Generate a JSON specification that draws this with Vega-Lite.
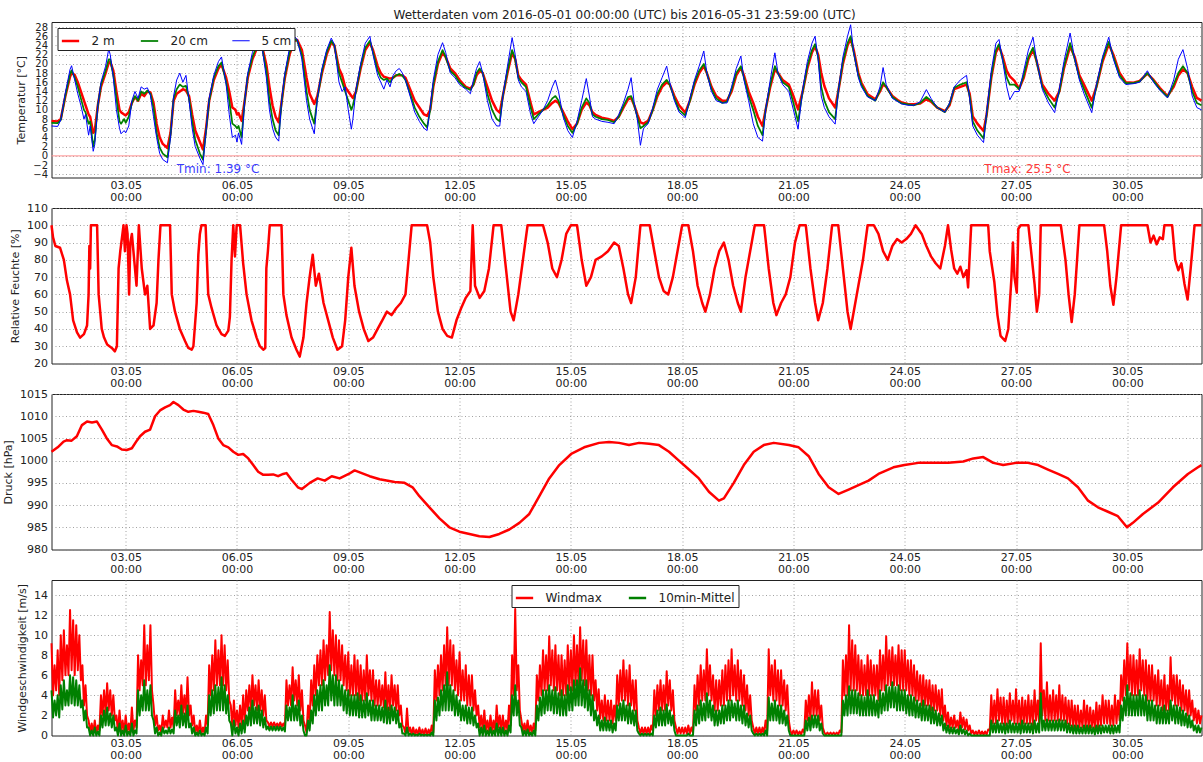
{
"$schema":"https://vega.github.io/schema/vega-lite/v6.json",
"padding":{"left":1.5,"top":8,"right":0,"bottom":0},
"title":{"text":"Wetterdaten vom 2016-05-01 00:00:00 (UTC) bis 2016-05-31 23:59:00 (UTC)","fontSize":12,"fontWeight":"normal","font":"DejaVu Sans","color":"#222","anchor":"middle","offset":4,"dx":22,"dy":4},
"bounds":"flush",
"spacing":30,
"resolve":{"scale":{"color":"independent","strokeWidth":"independent"},"legend":{"color":"independent","strokeWidth":"independent"}},
"config":{
 "font":"DejaVu Sans",
 "view":{"stroke":"#222","strokeWidth":1},
 "axis":{"labelFont":"DejaVu Sans","labelFontSize":11,"labelColor":"#222","titleFont":"DejaVu Sans","titleFontSize":11,"titleFontWeight":"normal","titleColor":"#222","grid":true,"gridColor":"#8a8a8a","gridDash":[1,2.5],"gridWidth":0.8,"domain":false,"ticks":false,"labelOverlap":false},
 "axisX":{"labelPadding":2,"labelLineHeight":12},
 "axisY":{"labelPadding":4,"titlePadding":6},
 "legend":{"symbolType":"stroke","labelFont":"DejaVu Sans","labelFontSize":12,"labelColor":"#222","strokeColor":"#222","fillColor":"#ffffff","padding":3,"labelOffset":11,"columnPadding":21,"symbolSize":300}
},
"vconcat":[
{
"width":1150,"height":155.5,
"layer":[
 {"data":{"values":[{"temp":0}]},"mark":{"type":"rule","color":"#ff9090","strokeWidth":1},"encoding":{"y":{"field":"temp","type":"quantitative","axis":{"values":[-4,-2,0,2,4,6,8,10,12,14,16,18,20,22,24,26,28],"tickCount":40,"labelOverlap":false,"labelFontSize":10,"title":"Temperatur [°C]"}}}},
 {"data":{"values":[
{"h":0,"t2m":7.6,"t20cm":7.2,"t5cm":6.5},{"h":4,"t2m":7.5,"t20cm":7.1,"t5cm":6.4},{"h":6,"t2m":8,"t20cm":7.8,"t5cm":7.8},{"h":9,"t2m":13,"t20cm":13.2,"t5cm":13.8},{"h":12,"t2m":17.2,"t20cm":17.8,"t5cm":18.8},{"h":13,"t2m":18,"t20cm":18.6,"t5cm":19.6},{"h":15,"t2m":17.6,"t20cm":17,"t5cm":16.5},{"h":17,"t2m":16,"t20cm":15,"t5cm":13.5},{"h":19,"t2m":14,"t20cm":12.5,"t5cm":11},{"h":21,"t2m":12,"t20cm":10,"t5cm":8},{"h":22,"t2m":11,"t20cm":9.5,"t5cm":9},{"h":24,"t2m":9,"t20cm":7,"t5cm":4.5},{"h":25,"t2m":8.5,"t20cm":7.5,"t5cm":6.5},{"h":27,"t2m":5,"t20cm":2,"t5cm":1},{"h":28,"t2m":5.5,"t20cm":3.5,"t5cm":2.5},{"h":30,"t2m":11,"t20cm":11,"t5cm":11},{"h":32,"t2m":15,"t20cm":15.5,"t5cm":16},{"h":35,"t2m":18,"t20cm":18.5,"t5cm":19.5},{"h":37,"t2m":20.2,"t20cm":21,"t5cm":23.2},{"h":38,"t2m":20.5,"t20cm":21,"t5cm":22},{"h":40,"t2m":18.5,"t20cm":17.5,"t5cm":17},{"h":42,"t2m":14,"t20cm":12.5,"t5cm":10},{"h":44,"t2m":10,"t20cm":7.5,"t5cm":6},{"h":45,"t2m":9.5,"t20cm":7,"t5cm":4.8},{"h":47,"t2m":9,"t20cm":8,"t5cm":5.5},{"h":48,"t2m":8.8,"t20cm":7.2,"t5cm":5},{"h":50,"t2m":9.5,"t20cm":8.5,"t5cm":6.5},{"h":52,"t2m":11.5,"t20cm":11.5,"t5cm":12},{"h":54,"t2m":12.8,"t20cm":13,"t5cm":14},{"h":56,"t2m":12,"t20cm":12,"t5cm":12.5},{"h":58,"t2m":13.5,"t20cm":14,"t5cm":15},{"h":60,"t2m":13,"t20cm":13.5,"t5cm":14.5},{"h":62,"t2m":14,"t20cm":14.2,"t5cm":14.8},{"h":64,"t2m":13.8,"t20cm":13.5,"t5cm":13.2},{"h":66,"t2m":11.5,"t20cm":10.5,"t5cm":8.5},{"h":68,"t2m":7,"t20cm":5,"t5cm":4},{"h":70,"t2m":4,"t20cm":1.8,"t5cm":0.5},{"h":72,"t2m":2.6,"t20cm":0.5,"t5cm":-0.8},{"h":75,"t2m":1.7,"t20cm":-0.3,"t5cm":-1.5},{"h":77,"t2m":5,"t20cm":4.5,"t5cm":4},{"h":79,"t2m":12,"t20cm":12.5,"t5cm":13},{"h":81,"t2m":13.5,"t20cm":14.5,"t5cm":16.5},{"h":83,"t2m":14,"t20cm":15.5,"t5cm":18},{"h":85,"t2m":14.5,"t20cm":15,"t5cm":16},{"h":87,"t2m":14.2,"t20cm":15.2,"t5cm":17.5},{"h":89,"t2m":13,"t20cm":12.5,"t5cm":12},{"h":91,"t2m":9,"t20cm":7.5,"t5cm":6},{"h":93,"t2m":5.5,"t20cm":3.5,"t5cm":2},{"h":96,"t2m":3,"t20cm":0.5,"t5cm":-0.5},{"h":98,"t2m":1.4,"t20cm":-0.8,"t5cm":-1.9},{"h":100,"t2m":6,"t20cm":5.5,"t5cm":5.5},{"h":102,"t2m":12,"t20cm":12,"t5cm":12.5},{"h":105,"t2m":16.5,"t20cm":17,"t5cm":17.5},{"h":108,"t2m":19,"t20cm":19.5,"t5cm":20.5},{"h":110,"t2m":19.8,"t20cm":20.3,"t5cm":21.5},{"h":113,"t2m":17,"t20cm":16,"t5cm":15.5},{"h":115,"t2m":14,"t20cm":12,"t5cm":9},{"h":117,"t2m":10.5,"t20cm":7,"t5cm":4},{"h":119,"t2m":10,"t20cm":6.5,"t5cm":4.5},{"h":120,"t2m":9,"t20cm":6,"t5cm":3},{"h":121,"t2m":9.3,"t20cm":6.5,"t5cm":5},{"h":123,"t2m":7.6,"t20cm":4,"t5cm":2.5},{"h":125,"t2m":12,"t20cm":12,"t5cm":12},{"h":127,"t2m":17,"t20cm":17.5,"t5cm":18},{"h":130,"t2m":21,"t20cm":21.5,"t5cm":22.5},{"h":133,"t2m":23.5,"t20cm":24,"t5cm":25},{"h":136,"t2m":24.2,"t20cm":24,"t5cm":24.2},{"h":139,"t2m":19.8,"t20cm":18.5,"t5cm":17},{"h":141,"t2m":15,"t20cm":12,"t5cm":10},{"h":143,"t2m":11,"t20cm":8,"t5cm":6},{"h":145,"t2m":8.5,"t20cm":5.5,"t5cm":4},{"h":147,"t2m":7.3,"t20cm":4.5,"t5cm":3.2},{"h":149,"t2m":12,"t20cm":12,"t5cm":12.5},{"h":151,"t2m":17,"t20cm":17.5,"t5cm":18},{"h":154,"t2m":22,"t20cm":22.5,"t5cm":23.5},{"h":157,"t2m":25,"t20cm":25.5,"t5cm":26},{"h":159,"t2m":25.2,"t20cm":25,"t5cm":25.3},{"h":162,"t2m":23,"t20cm":22,"t5cm":21},{"h":165,"t2m":17,"t20cm":14,"t5cm":12},{"h":167,"t2m":13.5,"t20cm":10,"t5cm":8},{"h":170,"t2m":11.3,"t20cm":7,"t5cm":4.8},{"h":172,"t2m":13,"t20cm":12.5,"t5cm":12.5},{"h":175,"t2m":18,"t20cm":18.5,"t5cm":19},{"h":178,"t2m":22,"t20cm":22.5,"t5cm":23},{"h":181,"t2m":24.7,"t20cm":25,"t5cm":25.6},{"h":183,"t2m":24,"t20cm":24,"t5cm":24.2},{"h":186,"t2m":19,"t20cm":18,"t5cm":16},{"h":188,"t2m":17.5,"t20cm":16,"t5cm":14},{"h":190,"t2m":15,"t20cm":14,"t5cm":15},{"h":192,"t2m":14,"t20cm":12,"t5cm":10},{"h":194,"t2m":13,"t20cm":10,"t5cm":5.8},{"h":195,"t2m":12.6,"t20cm":11,"t5cm":8},{"h":197,"t2m":14,"t20cm":14,"t5cm":14.5},{"h":200,"t2m":19,"t20cm":19.5,"t5cm":20},{"h":203,"t2m":23,"t20cm":23.5,"t5cm":24.5},{"h":206,"t2m":24.6,"t20cm":25,"t5cm":26},{"h":208,"t2m":23,"t20cm":22.5,"t5cm":22},{"h":211,"t2m":19.5,"t20cm":18.5,"t5cm":17.5},{"h":213,"t2m":18,"t20cm":17,"t5cm":16},{"h":215,"t2m":17.2,"t20cm":16.5,"t5cm":14.5},{"h":217,"t2m":17,"t20cm":16.8,"t5cm":16.5},{"h":219,"t2m":16.8,"t20cm":16,"t5cm":15},{"h":221,"t2m":17,"t20cm":17,"t5cm":17.5},{"h":223,"t2m":17.5,"t20cm":17.5,"t5cm":18.5},{"h":225,"t2m":17.6,"t20cm":17.8,"t5cm":19},{"h":227,"t2m":17.5,"t20cm":17.4,"t5cm":18},{"h":229,"t2m":17,"t20cm":16.5,"t5cm":16.5},{"h":232,"t2m":14.5,"t20cm":13.5,"t5cm":13},{"h":235,"t2m":12,"t20cm":10.5,"t5cm":9.5},{"h":238,"t2m":10.5,"t20cm":8.5,"t5cm":7.5},{"h":241,"t2m":9,"t20cm":7,"t5cm":6},{"h":243,"t2m":8.7,"t20cm":6.2,"t5cm":5.5},{"h":245,"t2m":10,"t20cm":10,"t5cm":10.5},{"h":247,"t2m":15,"t20cm":15.5,"t5cm":16.5},{"h":250,"t2m":20,"t20cm":20.5,"t5cm":22},{"h":253,"t2m":22.4,"t20cm":23,"t5cm":24.6},{"h":255,"t2m":21.5,"t20cm":21.5,"t5cm":22.5},{"h":258,"t2m":19,"t20cm":18.5,"t5cm":18},{"h":261,"t2m":18,"t20cm":17.5,"t5cm":17},{"h":264,"t2m":16.5,"t20cm":16,"t5cm":15.5},{"h":268,"t2m":15,"t20cm":14.8,"t5cm":14.5},{"h":271,"t2m":14.6,"t20cm":14.3,"t5cm":13.5},{"h":273,"t2m":15.5,"t20cm":15.5,"t5cm":16.5},{"h":275,"t2m":17.5,"t20cm":18,"t5cm":19},{"h":277,"t2m":18.5,"t20cm":19,"t5cm":20.5},{"h":279,"t2m":18,"t20cm":18,"t5cm":18},{"h":282,"t2m":15,"t20cm":13.5,"t5cm":12},{"h":285,"t2m":12,"t20cm":10,"t5cm":8},{"h":288,"t2m":10,"t20cm":8,"t5cm":6.5},{"h":290,"t2m":9.4,"t20cm":7.5,"t5cm":6.5},{"h":292,"t2m":13,"t20cm":13,"t5cm":13},{"h":295,"t2m":18,"t20cm":18.5,"t5cm":19.5},{"h":298,"t2m":22.4,"t20cm":23,"t5cm":25.7},{"h":300,"t2m":21,"t20cm":21,"t5cm":22},{"h":302,"t2m":17.5,"t20cm":17,"t5cm":16.5},{"h":304,"t2m":16.5,"t20cm":16,"t5cm":15},{"h":307,"t2m":15.5,"t20cm":15,"t5cm":14},{"h":310,"t2m":11.5,"t20cm":10.5,"t5cm":9},{"h":312,"t2m":9,"t20cm":8,"t5cm":7},{"h":315,"t2m":9.5,"t20cm":9,"t5cm":8.5},{"h":318,"t2m":10,"t20cm":10,"t5cm":10},{"h":321,"t2m":10.5,"t20cm":11,"t5cm":12},{"h":324,"t2m":11.5,"t20cm":12.5,"t5cm":15},{"h":326,"t2m":12,"t20cm":13,"t5cm":16.5},{"h":328,"t2m":11.5,"t20cm":12,"t5cm":14},{"h":331,"t2m":9.5,"t20cm":9,"t5cm":8.5},{"h":334,"t2m":7.5,"t20cm":6.5,"t5cm":5.5},{"h":337,"t2m":5.8,"t20cm":5,"t5cm":4},{"h":340,"t2m":7,"t20cm":7,"t5cm":7.5},{"h":343,"t2m":10,"t20cm":10.5,"t5cm":12},{"h":346,"t2m":11.6,"t20cm":12.5,"t5cm":16.8},{"h":348,"t2m":11,"t20cm":11.5,"t5cm":13},{"h":350,"t2m":9.5,"t20cm":9,"t5cm":8.5},{"h":352,"t2m":8.9,"t20cm":8.5,"t5cm":8},{"h":356,"t2m":8.3,"t20cm":8,"t5cm":7.5},{"h":360,"t2m":8,"t20cm":7.8,"t5cm":7.3},{"h":364,"t2m":7.6,"t20cm":7.3,"t5cm":7},{"h":367,"t2m":8.5,"t20cm":8.5,"t5cm":9},{"h":370,"t2m":10.5,"t20cm":10.8,"t5cm":11.5},{"h":373,"t2m":12.3,"t20cm":12.8,"t5cm":14.5},{"h":375,"t2m":12.6,"t20cm":13,"t5cm":17},{"h":377,"t2m":11,"t20cm":11,"t5cm":11.5},{"h":379,"t2m":9,"t20cm":8.5,"t5cm":8},{"h":381,"t2m":7.3,"t20cm":6,"t5cm":2.3},{"h":383,"t2m":7,"t20cm":6.5,"t5cm":6},{"h":386,"t2m":7.6,"t20cm":7.3,"t5cm":7},{"h":389,"t2m":10,"t20cm":10,"t5cm":10.5},{"h":392,"t2m":13,"t20cm":13.5,"t5cm":14.5},{"h":395,"t2m":15,"t20cm":15.5,"t5cm":17},{"h":398,"t2m":16,"t20cm":16.5,"t5cm":19.5},{"h":400,"t2m":15.5,"t20cm":15.5,"t5cm":16},{"h":403,"t2m":13,"t20cm":12.5,"t5cm":12},{"h":406,"t2m":11,"t20cm":10,"t5cm":9.5},{"h":410,"t2m":9.4,"t20cm":8.8,"t5cm":8.3},{"h":413,"t2m":12,"t20cm":12,"t5cm":12.5},{"h":416,"t2m":15.5,"t20cm":16,"t5cm":16.5},{"h":419,"t2m":18,"t20cm":18.5,"t5cm":19.5},{"h":422,"t2m":19.5,"t20cm":20,"t5cm":22.8},{"h":424,"t2m":18,"t20cm":18,"t5cm":18},{"h":427,"t2m":15,"t20cm":14.5,"t5cm":14},{"h":430,"t2m":13,"t20cm":12.5,"t5cm":12},{"h":434,"t2m":12,"t20cm":11.5,"t5cm":11.5},{"h":437,"t2m":12,"t20cm":11.8,"t5cm":11.5},{"h":440,"t2m":14,"t20cm":14.5,"t5cm":15},{"h":443,"t2m":17.5,"t20cm":18,"t5cm":19},{"h":446,"t2m":19.2,"t20cm":19.5,"t5cm":21.7},{"h":448,"t2m":17.5,"t20cm":17,"t5cm":16.5},{"h":451,"t2m":14,"t20cm":13,"t5cm":12},{"h":454,"t2m":11.5,"t20cm":10,"t5cm":7},{"h":457,"t2m":8.5,"t20cm":6.5,"t5cm":4},{"h":460,"t2m":6.5,"t20cm":4.5,"t5cm":3.2},{"h":462,"t2m":10,"t20cm":10,"t5cm":10},{"h":465,"t2m":15,"t20cm":15.5,"t5cm":16.5},{"h":468,"t2m":18.8,"t20cm":19.5,"t5cm":22.4},{"h":470,"t2m":18,"t20cm":18,"t5cm":18},{"h":473,"t2m":16.5,"t20cm":16,"t5cm":15.5},{"h":477,"t2m":15.5,"t20cm":15,"t5cm":14},{"h":480,"t2m":13,"t20cm":11.5,"t5cm":10},{"h":483,"t2m":10.1,"t20cm":7.5,"t5cm":5.8},{"h":486,"t2m":14,"t20cm":14,"t5cm":14.5},{"h":489,"t2m":19,"t20cm":19.5,"t5cm":20.5},{"h":492,"t2m":22.5,"t20cm":23,"t5cm":24.5},{"h":494,"t2m":23.8,"t20cm":24.3,"t5cm":26},{"h":496,"t2m":22,"t20cm":21.5,"t5cm":21},{"h":498,"t2m":18,"t20cm":15,"t5cm":13},{"h":500,"t2m":15.2,"t20cm":12,"t5cm":10.5},{"h":503,"t2m":12.5,"t20cm":9.5,"t5cm":8.5},{"h":507,"t2m":10.5,"t20cm":8,"t5cm":6.9},{"h":509,"t2m":14,"t20cm":14,"t5cm":14},{"h":512,"t2m":20,"t20cm":20.5,"t5cm":21.5},{"h":515,"t2m":24,"t20cm":24.5,"t5cm":26},{"h":517,"t2m":25.5,"t20cm":26,"t5cm":28.5},{"h":519,"t2m":23,"t20cm":22.5,"t5cm":22.5},{"h":522,"t2m":18,"t20cm":17.5,"t5cm":17},{"h":524,"t2m":15.9,"t20cm":15.5,"t5cm":15},{"h":528,"t2m":13.4,"t20cm":13,"t5cm":12.8},{"h":533,"t2m":12.3,"t20cm":12,"t5cm":12},{"h":536,"t2m":14,"t20cm":14.3,"t5cm":15},{"h":538,"t2m":15.5,"t20cm":16,"t5cm":19.2},{"h":540,"t2m":15,"t20cm":15,"t5cm":15.5},{"h":544,"t2m":13,"t20cm":12.8,"t5cm":12.5},{"h":548,"t2m":12,"t20cm":11.8,"t5cm":11.7},{"h":550,"t2m":11.6,"t20cm":11.4,"t5cm":11.3},{"h":554,"t2m":11.3,"t20cm":11.2,"t5cm":11},{"h":558,"t2m":11.2,"t20cm":11,"t5cm":11},{"h":562,"t2m":11.4,"t20cm":11.5,"t5cm":11.8},{"h":566,"t2m":12.3,"t20cm":12.8,"t5cm":14.4},{"h":569,"t2m":11.8,"t20cm":12,"t5cm":12.5},{"h":573,"t2m":10.5,"t20cm":10.5,"t5cm":10.5},{"h":578,"t2m":9.7,"t20cm":9.5,"t5cm":9.5},{"h":581,"t2m":11,"t20cm":11.3,"t5cm":11.5},{"h":584,"t2m":14.5,"t20cm":14.8,"t5cm":15},{"h":588,"t2m":15,"t20cm":15.5,"t5cm":16.5},{"h":592,"t2m":15.5,"t20cm":16,"t5cm":17.5},{"h":594,"t2m":13.5,"t20cm":13,"t5cm":12.5},{"h":596,"t2m":8.6,"t20cm":7.5,"t5cm":6.5},{"h":599,"t2m":7,"t20cm":5.5,"t5cm":4.5},{"h":603,"t2m":5.4,"t20cm":3.8,"t5cm":2.9},{"h":605,"t2m":9,"t20cm":9,"t5cm":9.5},{"h":608,"t2m":17,"t20cm":17.5,"t5cm":18.5},{"h":611,"t2m":22.5,"t20cm":23,"t5cm":24.5},{"h":613,"t2m":23.8,"t20cm":24.3,"t5cm":25.3},{"h":615,"t2m":22,"t20cm":21.5,"t5cm":21.5},{"h":618,"t2m":18.5,"t20cm":17,"t5cm":15},{"h":620,"t2m":17.3,"t20cm":15.5,"t5cm":12.2},{"h":623,"t2m":16.3,"t20cm":15.5,"t5cm":14},{"h":626,"t2m":14.6,"t20cm":14.5,"t5cm":14},{"h":629,"t2m":17,"t20cm":17.5,"t5cm":18.5},{"h":632,"t2m":21,"t20cm":21.5,"t5cm":23},{"h":635,"t2m":23.1,"t20cm":23.5,"t5cm":25.8},{"h":637,"t2m":21,"t20cm":21,"t5cm":21.5},{"h":641,"t2m":15.5,"t20cm":15,"t5cm":14.5},{"h":645,"t2m":13.5,"t20cm":12.5,"t5cm":11.5},{"h":649,"t2m":12,"t20cm":10.5,"t5cm":9.4},{"h":652,"t2m":14,"t20cm":14,"t5cm":14.5},{"h":655,"t2m":19,"t20cm":19.5,"t5cm":20.5},{"h":659,"t2m":23.8,"t20cm":24.5,"t5cm":26.7},{"h":662,"t2m":21.5,"t20cm":21,"t5cm":21},{"h":665,"t2m":17.5,"t20cm":17,"t5cm":16.5},{"h":668,"t2m":15.5,"t20cm":14.5,"t5cm":13.5},{"h":673,"t2m":12,"t20cm":10.5,"t5cm":9.4},{"h":676,"t2m":15,"t20cm":15,"t5cm":15.5},{"h":680,"t2m":20.5,"t20cm":21,"t5cm":21.5},{"h":684,"t2m":24.3,"t20cm":24.8,"t5cm":25.8},{"h":687,"t2m":22,"t20cm":21.5,"t5cm":21},{"h":691,"t2m":18,"t20cm":17.5,"t5cm":17},{"h":695,"t2m":16,"t20cm":15.8,"t5cm":15.5},{"h":700,"t2m":15.9,"t20cm":15.8,"t5cm":15.7},{"h":704,"t2m":16.3,"t20cm":16.2,"t5cm":16},{"h":709,"t2m":17.9,"t20cm":18,"t5cm":18.5},{"h":713,"t2m":16.5,"t20cm":16.3,"t5cm":16},{"h":717,"t2m":14.8,"t20cm":14.5,"t5cm":14.3},{"h":722,"t2m":13,"t20cm":12.8,"t5cm":12.6},{"h":726,"t2m":15,"t20cm":15.5,"t5cm":16.5},{"h":729,"t2m":17.5,"t20cm":18,"t5cm":21},{"h":732,"t2m":18.8,"t20cm":19.5,"t5cm":23.1},{"h":735,"t2m":18,"t20cm":18,"t5cm":19},{"h":738,"t2m":15,"t20cm":14,"t5cm":13},{"h":741,"t2m":12.6,"t20cm":11.5,"t5cm":10.5},{"h":744,"t2m":12,"t20cm":11,"t5cm":10}
 ]},
 "transform":[{"fold":["t2m","t20cm","t5cm"],"as":["series","temp"]}],
 "mark":{"type":"line","strokeJoin":"round"},
 "encoding":{
  "x":{"field":"h","type":"quantitative","scale":{"domain":[0,744],"nice":false,"zero":false},"axis":{"values":[48,120,192,264,336,408,480,552,624,696],"labelExpr":"[format(datum.value/24+1,'02d')+'.05','00:00']","title":null}},
  "y":{"field":"temp","type":"quantitative","scale":{"domain":[-4.7,29.1],"nice":false,"zero":false},"axis":{"values":[-4,-2,0,2,4,6,8,10,12,14,16,18,20,22,24,26,28],"tickCount":40,"labelOverlap":false,"labelFontSize":10,"title":"Temperatur [°C]"}},
  "color":{"field":"series","type":"nominal","scale":{"domain":["t2m","t20cm","t5cm"],"range":["#ff0000","#008000","#0000ff"]},"legend":{"title":null,"orient":"top-left","direction":"horizontal","offset":6,"labelExpr":"datum.label == 't2m' ? '2 m' : datum.label == 't20cm' ? '20 cm' : '5 cm'"}},
  "strokeWidth":{"field":"series","type":"nominal","scale":{"domain":["t2m","t20cm","t5cm"],"range":[2.5,1,1]},"legend":{"title":null,"orient":"top-left","direction":"horizontal","offset":6,"labelExpr":"datum.label == 't2m' ? '2 m' : datum.label == 't20cm' ? '20 cm' : '5 cm'"}}
 }},
 {"data":{"values":[{"h":81,"temp":-2.8,"label":"Tmin: 1.39 °C","kind":"min"},{"h":603.5,"temp":-2.8,"label":"Tmax: 25.5 °C","kind":"max"}]},
  "mark":{"type":"text","align":"left","baseline":"middle","fontSize":12,"font":"DejaVu Sans"},
  "encoding":{"x":{"field":"h","type":"quantitative"},"y":{"field":"temp","type":"quantitative","axis":{"values":[-4,-2,0,2,4,6,8,10,12,14,16,18,20,22,24,26,28],"tickCount":40,"labelOverlap":false,"labelFontSize":10,"title":"Temperatur [°C]"}},"text":{"field":"label"},"color":{"condition":{"test":"datum.kind == 'min'","value":"#3b3bff"},"value":"#ff3b3b"}}}
]
},
{
"width":1150,"height":155.5,
"data":{"values":[
{"h":0,"rh":100},{"h":1,"rh":93},{"h":2.5,"rh":88},{"h":5.5,"rh":87},{"h":8,"rh":80},{"h":10,"rh":68},{"h":12,"rh":60},{"h":14,"rh":45},{"h":16.5,"rh":38},{"h":18.5,"rh":35},{"h":21,"rh":37},{"h":23,"rh":42},{"h":24,"rh":60},{"h":24.5,"rh":88},{"h":25,"rh":75},{"h":25.5,"rh":100},{"h":29.5,"rh":100},{"h":30.5,"rh":60},{"h":32.5,"rh":40},{"h":34,"rh":35},{"h":36,"rh":31},{"h":39,"rh":29},{"h":41,"rh":27},{"h":42.3,"rh":30},{"h":43.4,"rh":75},{"h":44.5,"rh":85},{"h":46.6,"rh":100},{"h":47.5,"rh":85},{"h":48.5,"rh":100},{"h":49.2,"rh":95},{"h":50.2,"rh":60},{"h":51,"rh":90},{"h":52,"rh":95},{"h":53,"rh":85},{"h":55,"rh":65},{"h":56.5,"rh":100},{"h":58.4,"rh":75},{"h":60.5,"rh":60},{"h":62,"rh":65},{"h":63.8,"rh":40},{"h":66,"rh":42},{"h":68,"rh":55},{"h":69.2,"rh":80},{"h":70.5,"rh":100},{"h":76.7,"rh":100},{"h":77.8,"rh":60},{"h":79.9,"rh":50},{"h":83,"rh":40},{"h":86.4,"rh":33},{"h":88.5,"rh":29},{"h":90.7,"rh":28},{"h":91.8,"rh":30},{"h":93.9,"rh":55},{"h":95,"rh":83},{"h":96,"rh":95},{"h":97,"rh":100},{"h":99.7,"rh":100},{"h":101.4,"rh":60},{"h":103.6,"rh":52},{"h":106.8,"rh":42},{"h":110,"rh":37},{"h":112.2,"rh":36},{"h":114.4,"rh":39},{"h":115.4,"rh":47},{"h":116.5,"rh":80},{"h":117.6,"rh":100},{"h":118.7,"rh":82},{"h":119.8,"rh":100},{"h":122,"rh":100},{"h":124,"rh":78},{"h":126.2,"rh":60},{"h":129.4,"rh":45},{"h":132.7,"rh":35},{"h":134.8,"rh":30},{"h":137,"rh":28},{"h":138.3,"rh":29},{"h":139,"rh":75},{"h":140,"rh":85},{"h":141.2,"rh":100},{"h":148.8,"rh":100},{"h":150,"rh":60},{"h":152,"rh":48},{"h":155.3,"rh":35},{"h":158.5,"rh":28},{"h":160.6,"rh":24},
{"h":163,"rh":35},{"h":165,"rh":55},{"h":167,"rh":70},{"h":169,"rh":83},{"h":171,"rh":65},{"h":173,"rh":72},{"h":176,"rh":55},{"h":179,"rh":45},{"h":182,"rh":35},{"h":185,"rh":28},{"h":188,"rh":30},{"h":190,"rh":45},{"h":192,"rh":70},{"h":194,"rh":87},{"h":196,"rh":65},{"h":199,"rh":50},{"h":202,"rh":40},{"h":205,"rh":33},{"h":208,"rh":35},{"h":211,"rh":40},{"h":214,"rh":45},{"h":217,"rh":50},{"h":220,"rh":48},{"h":223,"rh":52},{"h":226,"rh":55},{"h":229,"rh":60},{"h":231,"rh":80},{"h":233,"rh":100},{"h":243,"rh":100},{"h":245,"rh":90},{"h":247,"rh":70},{"h":250,"rh":50},{"h":253,"rh":40},{"h":256,"rh":36},{"h":259,"rh":35},{"h":262,"rh":45},{"h":265,"rh":52},{"h":268,"rh":58},{"h":271,"rh":62},{"h":272.5,"rh":100},{"h":274,"rh":65},{"h":277,"rh":58},{"h":280,"rh":62},{"h":283,"rh":75},{"h":286,"rh":100},{"h":291,"rh":100},{"h":294,"rh":75},{"h":297,"rh":50},{"h":299,"rh":45},{"h":302,"rh":60},{"h":305,"rh":80},{"h":308,"rh":100},{"h":318,"rh":100},{"h":321,"rh":90},{"h":324,"rh":75},{"h":327,"rh":70},{"h":330,"rh":80},{"h":333,"rh":95},{"h":336,"rh":100},{"h":340,"rh":100},{"h":343,"rh":80},{"h":346,"rh":65},{"h":349,"rh":70},{"h":352,"rh":80},{"h":356,"rh":82},{"h":360,"rh":85},{"h":364,"rh":90},{"h":367,"rh":88},{"h":370,"rh":75},{"h":373,"rh":60},{"h":375,"rh":55},{"h":378,"rh":70},{"h":381,"rh":100},{"h":387,"rh":100},{"h":390,"rh":85},{"h":393,"rh":70},{"h":396,"rh":62},{"h":399,"rh":60},{"h":402,"rh":70},{"h":405,"rh":85},{"h":408,"rh":100},{"h":412,"rh":100},{"h":415,"rh":85},{"h":418,"rh":65},{"h":421,"rh":55},{"h":423,"rh":50},{"h":426,"rh":60},{"h":429,"rh":75},{"h":432,"rh":85},{"h":435,"rh":90},{"h":438,"rh":80},{"h":441,"rh":65},{"h":444,"rh":55},{"h":446,"rh":50},{"h":449,"rh":70},{"h":452,"rh":85},{"h":455,"rh":100},{"h":461,"rh":100},{"h":464,"rh":75},{"h":467,"rh":55},{"h":469,"rh":48},{"h":472,"rh":55},{"h":475,"rh":60},{"h":478,"rh":70},{"h":481,"rh":90},{"h":484,"rh":100},{"h":488,"rh":100},{"h":491,"rh":75},{"h":494,"rh":55},{"h":496,"rh":45},{"h":499,"rh":55},{"h":502,"rh":75},{"h":505,"rh":100},{"h":509,"rh":100},{"h":512,"rh":75},{"h":515,"rh":50},{"h":517,"rh":40},{"h":519,"rh":50},{"h":522,"rh":65},{"h":525,"rh":80},{"h":528,"rh":100},{"h":532,"rh":100},{"h":535,"rh":95},{"h":538,"rh":85},{"h":541,"rh":80},{"h":544,"rh":88},{"h":547,"rh":92},{"h":550,"rh":90},{"h":553,"rh":92},{"h":556,"rh":95},{"h":559,"rh":100},{"h":563,"rh":95},{"h":566,"rh":88},{"h":569,"rh":82},{"h":572,"rh":78},{"h":575,"rh":75},{"h":578,"rh":88},{"h":580,"rh":100},{"h":582,"rh":86},{"h":584,"rh":75},{"h":586,"rh":72},{"h":588,"rh":76},{"h":590,"rh":70},{"h":592,"rh":74},{"h":593,"rh":64},{"h":595,"rh":100},{"h":606,"rh":100},{"h":607,"rh":85},{"h":610,"rh":67},{"h":612,"rh":48},{"h":614,"rh":36},{"h":617,"rh":33},{"h":619,"rh":40},{"h":621,"rh":69},{"h":622,"rh":90},{"h":623,"rh":70},{"h":624.5,"rh":61},{"h":625.5,"rh":98},{"h":627,"rh":100},{"h":632,"rh":100},{"h":634,"rh":83},{"h":636,"rh":66},{"h":637.5,"rh":50},{"h":639,"rh":60},{"h":640,"rh":100},{"h":653,"rh":100},{"h":656,"rh":80},{"h":658,"rh":60},{"h":660,"rh":44},{"h":662,"rh":60},{"h":665,"rh":100},{"h":681,"rh":100},{"h":683,"rh":85},{"h":685,"rh":65},{"h":687,"rh":54},{"h":689,"rh":70},{"h":692,"rh":100},{"h":709,"rh":100},{"h":711,"rh":90},{"h":713,"rh":94},{"h":715,"rh":89},{"h":717,"rh":93},{"h":719,"rh":92},{"h":720,"rh":100},{"h":725,"rh":100},{"h":727,"rh":80},{"h":729,"rh":74},{"h":731,"rh":78},{"h":733,"rh":66},{"h":735,"rh":57},{"h":737,"rh":75},{"h":739.5,"rh":100},{"h":744,"rh":100}
]},
"mark":{"type":"line","color":"#ff0000","strokeWidth":2.5,"strokeJoin":"round"},
"encoding":{
 "x":{"field":"h","type":"quantitative","scale":{"domain":[0,744],"nice":false,"zero":false},"axis":{"values":[48,120,192,264,336,408,480,552,624,696],"labelExpr":"[format(datum.value/24+1,'02d')+'.05','00:00']","title":null}},
 "y":{"field":"rh","type":"quantitative","scale":{"domain":[20,110],"nice":false,"zero":false},"axis":{"values":[20,30,40,50,60,70,80,90,100,110],"title":"Relative Feuchte [%]"}}
}
},
{
"width":1150,"height":155.5,
"data":{"values":[
{"h":0,"p":1002},{"h":4,"p":1003},{"h":7.8,"p":1004.3},{"h":10,"p":1004.6},{"h":13,"p":1004.5},{"h":16.4,"p":1005.5},{"h":19.7,"p":1008},{"h":23,"p":1008.8},{"h":26.2,"p":1008.6},{"h":29.4,"p":1008.8},{"h":32.6,"p":1007},{"h":35.8,"p":1005},{"h":39,"p":1003.5},{"h":42.3,"p":1003.2},{"h":45.5,"p":1002.5},{"h":48.7,"p":1002.4},{"h":52,"p":1002.8},{"h":55.2,"p":1004.5},{"h":57.3,"p":1005.5},{"h":60.5,"p":1006.5},{"h":63.8,"p":1007},{"h":67,"p":1010},{"h":70.2,"p":1011.3},{"h":73.5,"p":1012},{"h":76.7,"p":1012.5},{"h":78.9,"p":1013.2},{"h":82.1,"p":1012.5},{"h":85.3,"p":1011.5},{"h":88.5,"p":1011},{"h":91.8,"p":1011.2},{"h":95,"p":1011},{"h":98.2,"p":1010.8},{"h":101.4,"p":1010.5},{"h":104.7,"p":1008},{"h":107.9,"p":1005},{"h":111.1,"p":1003.5},{"h":114.4,"p":1003},{"h":117.6,"p":1002},{"h":120.8,"p":1001.3},{"h":124,"p":1001.5},{"h":127.3,"p":1000.5},{"h":130.5,"p":999},{"h":133.7,"p":997.5},{"h":137,"p":996.8},{"h":140.2,"p":996.8},{"h":143.4,"p":996.9},{"h":146.6,"p":996.5},{"h":149.9,"p":997},{"h":152,"p":997.2},{"h":155.3,"p":995.7},{"h":159.4,"p":994},{"h":162,"p":993.6},{"h":167.1,"p":995},{"h":172.2,"p":996},{"h":176.8,"p":995.5},{"h":181.3,"p":996.5},{"h":186.4,"p":996},{"h":192.3,"p":997},{"h":196.1,"p":997.8},{"h":200.7,"p":997.2},{"h":205.8,"p":996.5},{"h":212.3,"p":995.8},{"h":222,"p":995.2},{"h":228.4,"p":995},{"h":233.6,"p":994},{"h":238,"p":992},{"h":244.5,"p":989.5},{"h":251,"p":987},{"h":257.4,"p":985},{"h":263.9,"p":984},{"h":270.4,"p":983.5},{"h":276.8,"p":983},{"h":283.3,"p":982.8},{"h":289.7,"p":983.5},{"h":296.2,"p":984.5},{"h":302.7,"p":986},{"h":309.1,"p":988},{"h":315.6,"p":992},{"h":322,"p":996},{"h":328.5,"p":999},{"h":336.2,"p":1001.5},{"h":344.6,"p":1003},{"h":354.3,"p":1004},{"h":360.7,"p":1004.2},{"h":367.2,"p":1004},{"h":373.6,"p":1003.5},{"h":380.1,"p":1004},{"h":386.6,"p":1003.8},{"h":393,"p":1003.5},{"h":399.5,"p":1002},{"h":405.9,"p":1000},{"h":412.4,"p":998},{"h":418.8,"p":996},{"h":425.3,"p":993},{"h":431.8,"p":991},{"h":435,"p":991.5},{"h":441.4,"p":995},{"h":447.9,"p":999},{"h":454.3,"p":1002},{"h":460.8,"p":1003.5},{"h":467.3,"p":1004},{"h":477,"p":1003.5},{"h":483.4,"p":1003},{"h":489.9,"p":1001},{"h":496.3,"p":997},{"h":502.8,"p":994},{"h":509.2,"p":992.5},{"h":515.7,"p":993.5},{"h":522.1,"p":994.5},{"h":528.6,"p":995.5},{"h":535,"p":997},{"h":544.7,"p":998.5},{"h":551.8,"p":999},{"h":560.8,"p":999.5},{"h":570.5,"p":999.5},{"h":580.2,"p":999.5},{"h":589.9,"p":999.8},{"h":596.4,"p":1000.5},{"h":602.8,"p":1000.8},{"h":609.3,"p":999.5},{"h":615.7,"p":999},{"h":624.1,"p":999.5},{"h":631.8,"p":999.5},{"h":638.3,"p":999},{"h":644.7,"p":998},{"h":651.2,"p":997},{"h":657.6,"p":996},{"h":664.1,"p":994},{"h":670.6,"p":991},{"h":677,"p":989.5},{"h":683.5,"p":988.5},{"h":689.9,"p":987.5},{"h":695.8,"p":985},{"h":699.6,"p":986},{"h":706.1,"p":988},{"h":715.8,"p":990.5},{"h":725.5,"p":994},{"h":735.2,"p":997},{"h":741.7,"p":998.5},{"h":744,"p":999}
]},
"mark":{"type":"line","color":"#ff0000","strokeWidth":2.5,"strokeJoin":"round"},
"encoding":{
 "x":{"field":"h","type":"quantitative","scale":{"domain":[0,744],"nice":false,"zero":false},"axis":{"values":[48,120,192,264,336,408,480,552,624,696],"labelExpr":"[format(datum.value/24+1,'02d')+'.05','00:00']","title":null}},
 "y":{"field":"p","type":"quantitative","scale":{"domain":[980,1015],"nice":false,"zero":false},"axis":{"values":[980,985,990,995,1000,1005,1010,1015],"format":"d","title":"Druck [hPa]"}}
}
},
{
"width":1150,"height":155.5,
"data":{"values":[
{"h":0,"max":9.2,"avg":4.5},{"h":1,"max":4,"avg":1.8},{"h":2,"max":7,"avg":3.5},{"h":3,"max":4.5,"avg":2},{"h":4,"max":8.5,"avg":4},{"h":5,"max":4,"avg":1.8},{"h":6,"max":10,"avg":5},{"h":7,"max":5.5,"avg":2.6},{"h":8,"max":10.5,"avg":5.5},{"h":9,"max":6,"avg":3},{"h":10,"max":9,"avg":4.5},{"h":11,"max":6,"avg":3},{"h":12,"max":12.5,"avg":6},{"h":13,"max":6.5,"avg":3.2},{"h":14,"max":11.5,"avg":5.8},{"h":15,"max":6,"avg":3},{"h":16,"max":11,"avg":5.5},{"h":17,"max":6.5,"avg":3},{"h":18,"max":10,"avg":5},{"h":19,"max":5.5,"avg":2.8},{"h":20,"max":7,"avg":3.5},{"h":21,"max":3,"avg":1.5},{"h":22,"max":5,"avg":2.5},{"h":23,"max":2,"avg":0.8},{"h":24,"max":1.5,"avg":0.8},{"h":25,"max":0.3,"avg":0},{"h":26,"max":1.2,"avg":0.5},{"h":27,"max":0.3,"avg":0},{"h":28,"max":1.5,"avg":0.8},{"h":29,"max":0.2,"avg":0},{"h":30,"max":1,"avg":0.4},{"h":31,"max":0.5,"avg":0},{"h":32,"max":4,"avg":2},{"h":33,"max":2,"avg":0.8},{"h":34,"max":4.5,"avg":2.5},{"h":35,"max":2.2,"avg":1},{"h":36,"max":5.2,"avg":2.8},{"h":37,"max":2.5,"avg":1},{"h":38,"max":4.5,"avg":2.2},{"h":39,"max":2,"avg":0.8},{"h":40,"max":4,"avg":2},{"h":41,"max":1.5,"avg":0.5},{"h":42,"max":2,"avg":0.8},{"h":43,"max":0.3,"avg":0},{"h":44,"max":2.5,"avg":1.2},{"h":45,"max":0.5,"avg":0},{"h":46,"max":1.5,"avg":0.5},{"h":47,"max":0.2,"avg":0},{"h":48,"max":2,"avg":1},{"h":49,"max":0.4,"avg":0},{"h":50,"max":1.2,"avg":0.4},{"h":51,"max":0.3,"avg":0},{"h":52,"max":2.8,"avg":1.2},{"h":53,"max":0.5,"avg":0},{"h":54,"max":1.5,"avg":0.5},{"h":55,"max":0.8,"avg":0.2},{"h":56,"max":8,"avg":4.5},{"h":57,"max":4.5,"avg":2},{"h":58,"max":7.5,"avg":4},{"h":59,"max":5,"avg":2.5},{"h":60,"max":11,"avg":5.5},{"h":61,"max":5,"avg":2.5},{"h":62,"max":9,"avg":4.5},{"h":63,"max":5.5,"avg":2.5},{"h":64,"max":11,"avg":5},{"h":65,"max":4.5,"avg":2},{"h":66,"max":3,"avg":1.5},{"h":67,"max":1,"avg":0.2},{"h":68,"max":2,"avg":0.8},{"h":69,"max":0.5,"avg":0},{"h":70,"max":1,"avg":0.3},{"h":71,"max":0.3,"avg":0},{"h":72,"max":2,"avg":0.8},{"h":73,"max":0.8,"avg":0.2},{"h":74,"max":1.5,"avg":0.5},{"h":75,"max":0.8,"avg":0.2},{"h":76,"max":2.5,"avg":0.8},{"h":77,"max":0.8,"avg":0.2},{"h":78,"max":1.8,"avg":0.6},{"h":79,"max":0.8,"avg":0.2},{"h":80,"max":4.5,"avg":2.5},{"h":81,"max":2,"avg":1},{"h":82,"max":3.5,"avg":2},{"h":83,"max":2,"avg":0.8},{"h":84,"max":5,"avg":3},{"h":85,"max":2.2,"avg":1},{"h":86,"max":4,"avg":2.2},{"h":87,"max":2,"avg":0.8},{"h":88,"max":5.8,"avg":3},{"h":89,"max":2,"avg":0.8},{"h":90,"max":3,"avg":1.2},{"h":91,"max":1,"avg":0.2},{"h":92,"max":2,"avg":0.8},{"h":93,"max":0.3,"avg":0},{"h":94,"max":1,"avg":0.3},{"h":95,"max":0.2,"avg":0},{"h":96,"max":1.5,"avg":0.5},{"h":97,"max":0.2,"avg":0},{"h":98,"max":0.8,"avg":0.2},{"h":99,"max":0.2,"avg":0},{"h":100,"max":2,"avg":0.8},{"h":101,"max":1,"avg":0.2},{"h":102,"max":7,"avg":4},{"h":103,"max":4,"avg":2},{"h":104,"max":8,"avg":4.5},{"h":105,"max":4.5,"avg":2.2},{"h":106,"max":9.5,"avg":5},{"h":107,"max":5,"avg":2.5},{"h":108,"max":8.5,"avg":4.8},{"h":109,"max":5,"avg":2.5},{"h":110,"max":10,"avg":5.8},{"h":111,"max":5,"avg":2.5},{"h":112,"max":9,"avg":5},{"h":113,"max":4.5,"avg":2.2},{"h":114,"max":7.5,"avg":4},{"h":115,"max":3.5,"avg":1.5},{"h":116,"max":3,"avg":1.2},{"h":117,"max":0.8,"avg":0},{"h":118,"max":3.5,"avg":1.5},{"h":119,"max":1,"avg":0.2},{"h":120,"max":2.5,"avg":0.8},{"h":121,"max":0.8,"avg":0},{"h":122,"max":3,"avg":1.2},{"h":123,"max":1,"avg":0.2},{"h":124,"max":4,"avg":1.5},{"h":125,"max":1.2,"avg":0.3},{"h":126,"max":4.5,"avg":2},{"h":127,"max":2.5,"avg":1},{"h":128,"max":5,"avg":2.8},{"h":129,"max":2.5,"avg":1},{"h":130,"max":6,"avg":3.5},{"h":131,"max":3,"avg":1.2},{"h":132,"max":5,"avg":2.8},{"h":133,"max":2.5,"avg":1.2},{"h":134,"max":5.5,"avg":3},{"h":135,"max":2.5,"avg":1},{"h":136,"max":4.5,"avg":2.5},{"h":137,"max":2,"avg":0.8},{"h":138,"max":4,"avg":1.8},{"h":139,"max":1.5,"avg":0.6},{"h":140,"max":1.3,"avg":0.9},{"h":141,"max":0.9,"avg":0.5},{"h":142,"max":1.3,"avg":0.9},{"h":143,"max":0.9,"avg":0.5},{"h":144,"max":1.3,"avg":0.9},{"h":145,"max":0.9,"avg":0.5},{"h":146,"max":1.2,"avg":0.9},{"h":147,"max":0.9,"avg":0.5},{"h":148,"max":1.3,"avg":0.9},{"h":149,"max":0.9,"avg":0.5},{"h":150,"max":1.2,"avg":0.8},{"h":151,"max":0.8,"avg":0.4},{"h":152,"max":5.5,"avg":3},{"h":153,"max":3,"avg":1.5},{"h":154,"max":5,"avg":2.8},{"h":155,"max":3,"avg":1.5},{"h":156,"max":6.8,"avg":4},{"h":157,"max":3.5,"avg":1.5},{"h":158,"max":5.5,"avg":3},{"h":159,"max":3,"avg":1.5},{"h":160,"max":6,"avg":3.5},{"h":161,"max":2.5,"avg":1},{"h":162,"max":4.5,"avg":2},{"h":163,"max":1.5,"avg":0.5},{"h":164,"max":1,"avg":0},{"h":165,"max":0.3,"avg":0},{"h":166,"max":3,"avg":1.5},{"h":167,"max":1.5,"avg":0.5},{"h":168,"max":5.5,"avg":2.5},{"h":169,"max":3,"avg":1.2},{"h":170,"max":7,"avg":4},{"h":171,"max":4,"avg":2},{"h":172,"max":8,"avg":4.5},{"h":173,"max":5,"avg":2.5},{"h":174,"max":8.5,"avg":5},{"h":175,"max":5,"avg":2.5},{"h":176,"max":9.5,"avg":5.5},{"h":177,"max":5.5,"avg":3},{"h":178,"max":9,"avg":5},{"h":179,"max":6,"avg":3},{"h":180,"max":12.3,"avg":7},{"h":181,"max":6.5,"avg":3.5},{"h":182,"max":10.5,"avg":6},{"h":183,"max":6,"avg":3},{"h":184,"max":10,"avg":6},{"h":185,"max":5.5,"avg":3},{"h":186,"max":9.5,"avg":5.5},{"h":187,"max":5.5,"avg":3},{"h":188,"max":9,"avg":5},{"h":189,"max":5,"avg":2.5},{"h":190,"max":8,"avg":4.5},{"h":191,"max":4.5,"avg":2.2},{"h":192,"max":8.3,"avg":4.5},{"h":193,"max":4,"avg":2},{"h":194,"max":7,"avg":4},{"h":195,"max":4,"avg":2},{"h":196,"max":8,"avg":4},{"h":197,"max":4,"avg":2},{"h":198,"max":7.5,"avg":4.2},{"h":199,"max":3.5,"avg":1.8},{"h":200,"max":7,"avg":4},{"h":201,"max":3.5,"avg":1.8},{"h":202,"max":6.5,"avg":3.5},{"h":203,"max":3.5,"avg":1.8},{"h":204,"max":8,"avg":4.2},{"h":205,"max":4,"avg":2},{"h":206,"max":6.5,"avg":3.5},{"h":207,"max":3.5,"avg":1.5},{"h":208,"max":6.5,"avg":3.5},{"h":209,"max":3,"avg":1.5},{"h":210,"max":5.5,"avg":3},{"h":211,"max":3,"avg":1.5},{"h":212,"max":5.5,"avg":3},{"h":213,"max":3,"avg":1.5},{"h":214,"max":5,"avg":2.8},{"h":215,"max":2.8,"avg":1.3},{"h":216,"max":6.3,"avg":3.5},{"h":217,"max":2.5,"avg":1.2},{"h":218,"max":5,"avg":2.8},{"h":219,"max":2.5,"avg":1.2},{"h":220,"max":6,"avg":3},{"h":221,"max":3,"avg":1.5},{"h":222,"max":5,"avg":2.8},{"h":223,"max":2.5,"avg":1.2},{"h":224,"max":5,"avg":2.5},{"h":225,"max":2,"avg":0.8},{"h":226,"max":3,"avg":1.2},{"h":227,"max":1,"avg":0.2},{"h":228,"max":0.8,"avg":0.2},{"h":229,"max":0.2,"avg":0},{"h":230,"max":2.7,"avg":0.8},{"h":231,"max":0.3,"avg":0},{"h":232,"max":0.8,"avg":0.2},{"h":233,"max":0.1,"avg":0},{"h":234,"max":0.8,"avg":0.2},{"h":235,"max":0.1,"avg":0},{"h":236,"max":0.6,"avg":0.1},{"h":237,"max":0.1,"avg":0},{"h":238,"max":0.8,"avg":0.2},{"h":239,"max":0.1,"avg":0},{"h":240,"max":0.6,"avg":0.1},{"h":241,"max":0.1,"avg":0},{"h":242,"max":0.7,"avg":0.1},{"h":243,"max":0.1,"avg":0},{"h":244,"max":0.6,"avg":0.1},{"h":245,"max":0.1,"avg":0},{"h":246,"max":1,"avg":0.3},{"h":247,"max":0.3,"avg":0},{"h":248,"max":6.5,"avg":3.5},{"h":249,"max":3.5,"avg":1.5},{"h":250,"max":7,"avg":3.8},{"h":251,"max":4,"avg":2},{"h":252,"max":8,"avg":4.5},{"h":253,"max":4.5,"avg":2.5},{"h":254,"max":9,"avg":5},{"h":255,"max":5,"avg":2.5},{"h":256,"max":10.8,"avg":6.3},{"h":257,"max":5,"avg":2.5},{"h":258,"max":9.5,"avg":5},{"h":259,"max":5,"avg":2.5},{"h":260,"max":9,"avg":4.5},{"h":261,"max":4.5,"avg":2},{"h":262,"max":7.5,"avg":4},{"h":263,"max":4,"avg":2},{"h":264,"max":8.3,"avg":3.5},{"h":265,"max":3.5,"avg":1.5},{"h":266,"max":6.5,"avg":3},{"h":267,"max":3.5,"avg":1.5},{"h":268,"max":7,"avg":3},{"h":269,"max":3,"avg":1.2},{"h":270,"max":6,"avg":2.8},{"h":271,"max":3,"avg":1.2},{"h":272,"max":6,"avg":2.8},{"h":273,"max":2.5,"avg":1},{"h":274,"max":4.5,"avg":2},{"h":275,"max":2,"avg":0.8},{"h":276,"max":3,"avg":1.2},{"h":277,"max":0.8,"avg":0},{"h":278,"max":2,"avg":0.8},{"h":279,"max":0.5,"avg":0},{"h":280,"max":2.5,"avg":1},{"h":281,"max":0.5,"avg":0},{"h":282,"max":1.5,"avg":0.5},{"h":283,"max":0.4,"avg":0},{"h":284,"max":2,"avg":0.8},{"h":285,"max":0.5,"avg":0},{"h":286,"max":1.5,"avg":0.5},{"h":287,"max":0.3,"avg":0},{"h":288,"max":3,"avg":1.2},{"h":289,"max":0.8,"avg":0},{"h":290,"max":2,"avg":0.8},{"h":291,"max":0.5,"avg":0},{"h":292,"max":2,"avg":0.8},{"h":293,"max":0.5,"avg":0},{"h":294,"max":1.5,"avg":0.5},{"h":295,"max":0.5,"avg":0},{"h":296,"max":3,"avg":1},{"h":297,"max":1,"avg":0.3},{"h":298,"max":8,"avg":4},{"h":299,"max":4,"avg":2},{"h":300,"max":12.6,"avg":5},{"h":301,"max":4.5,"avg":2},{"h":302,"max":7,"avg":3.5},{"h":303,"max":2.5,"avg":1},{"h":304,"max":1.5,"avg":0.8},{"h":305,"max":0.5,"avg":0},{"h":306,"max":1.2,"avg":0.5},{"h":307,"max":0.3,"avg":0},{"h":308,"max":1.5,"avg":0.6},{"h":309,"max":0.3,"avg":0},{"h":310,"max":1,"avg":0.3},{"h":311,"max":0.3,"avg":0},{"h":312,"max":1.2,"avg":0.5},{"h":313,"max":0.5,"avg":0},{"h":314,"max":6,"avg":3},{"h":315,"max":3.5,"avg":1.5},{"h":316,"max":7,"avg":3.8},{"h":317,"max":4,"avg":2},{"h":318,"max":8.5,"avg":4.5},{"h":319,"max":4.5,"avg":2.2},{"h":320,"max":8,"avg":4.5},{"h":321,"max":4.5,"avg":2.5},{"h":322,"max":9.9,"avg":5},{"h":323,"max":5,"avg":2.5},{"h":324,"max":8.5,"avg":4.5},{"h":325,"max":4.5,"avg":2.2},{"h":326,"max":9,"avg":4.8},{"h":327,"max":4.5,"avg":2.2},{"h":328,"max":8,"avg":4.2},{"h":329,"max":4,"avg":2},{"h":330,"max":8,"avg":4.5},{"h":331,"max":4,"avg":2},{"h":332,"max":7.5,"avg":4},{"h":333,"max":4,"avg":2},{"h":334,"max":9,"avg":5},{"h":335,"max":4.5,"avg":2.5},{"h":336,"max":8.5,"avg":4.8},{"h":337,"max":4.5,"avg":2.5},{"h":338,"max":10,"avg":5.5},{"h":339,"max":5,"avg":3},{"h":340,"max":9,"avg":5.5},{"h":341,"max":5,"avg":3},{"h":342,"max":10.8,"avg":6.7},{"h":343,"max":5.5,"avg":3},{"h":344,"max":9.5,"avg":5.5},{"h":345,"max":5,"avg":2.8},{"h":346,"max":9.5,"avg":5.5},{"h":347,"max":4.5,"avg":2.5},{"h":348,"max":8,"avg":4.5},{"h":349,"max":4,"avg":2},{"h":350,"max":8,"avg":4},{"h":351,"max":3.5,"avg":1.5},{"h":352,"max":5.5,"avg":2.5},{"h":353,"max":2.5,"avg":1},{"h":354,"max":4.6,"avg":2},{"h":355,"max":1.7,"avg":0.5},{"h":356,"max":3.5,"avg":1.5},{"h":357,"max":1.5,"avg":0.5},{"h":358,"max":4,"avg":1.8},{"h":359,"max":1.5,"avg":0.5},{"h":360,"max":3.5,"avg":1.5},{"h":361,"max":1.5,"avg":0.5},{"h":362,"max":3.5,"avg":1.5},{"h":363,"max":1.2,"avg":0.3},{"h":364,"max":3,"avg":1.2},{"h":365,"max":1.5,"avg":0.5},{"h":366,"max":6,"avg":3},{"h":367,"max":3,"avg":1.5},{"h":368,"max":6.5,"avg":3.2},{"h":369,"max":3.5,"avg":1.5},{"h":370,"max":7.5,"avg":3.5},{"h":371,"max":3.5,"avg":1.5},{"h":372,"max":6.5,"avg":3},{"h":373,"max":3,"avg":1.2},{"h":374,"max":7,"avg":3.2},{"h":375,"max":3,"avg":1.2},{"h":376,"max":5.5,"avg":2.5},{"h":377,"max":2.5,"avg":1},{"h":378,"max":5.5,"avg":2.5},{"h":379,"max":1.5,"avg":0.5},{"h":380,"max":0.8,"avg":0.2},{"h":381,"max":0.2,"avg":0},{"h":382,"max":0.8,"avg":0.2},{"h":383,"max":0.2,"avg":0},{"h":384,"max":0.8,"avg":0.2},{"h":385,"max":0.2,"avg":0},{"h":386,"max":0.8,"avg":0.2},{"h":387,"max":0.2,"avg":0},{"h":388,"max":1,"avg":0.2},{"h":389,"max":0.5,"avg":0},{"h":390,"max":4.5,"avg":2},{"h":391,"max":2,"avg":0.8},{"h":392,"max":5,"avg":2.5},{"h":393,"max":2.5,"avg":1},{"h":394,"max":5.5,"avg":2.8},{"h":395,"max":2.5,"avg":1},{"h":396,"max":5,"avg":2.5},{"h":397,"max":2.5,"avg":1},{"h":398,"max":6.4,"avg":3.1},{"h":399,"max":3,"avg":1.2},{"h":400,"max":5.5,"avg":2.5},{"h":401,"max":2.5,"avg":1},{"h":402,"max":4.5,"avg":2},{"h":403,"max":1.5,"avg":0.5},{"h":404,"max":0.8,"avg":0},{"h":405,"max":0.2,"avg":0},{"h":406,"max":0.8,"avg":0},{"h":407,"max":0.2,"avg":0},{"h":408,"max":0.8,"avg":0},{"h":409,"max":0.2,"avg":0},{"h":410,"max":0.8,"avg":0},{"h":411,"max":0.2,"avg":0},{"h":412,"max":1,"avg":0.2},{"h":413,"max":0.2,"avg":0},{"h":414,"max":0.8,"avg":0},{"h":415,"max":0.3,"avg":0},{"h":416,"max":5,"avg":2.5},{"h":417,"max":2.5,"avg":1},{"h":418,"max":6,"avg":3},{"h":419,"max":3,"avg":1.2},{"h":420,"max":7,"avg":3.5},{"h":421,"max":3.5,"avg":1.5},{"h":422,"max":6.5,"avg":3.2},{"h":423,"max":3.5,"avg":1.5},{"h":424,"max":8.6,"avg":4.2},{"h":425,"max":4,"avg":1.8},{"h":426,"max":7,"avg":3.5},{"h":427,"max":3.5,"avg":1.5},{"h":428,"max":6,"avg":3},{"h":429,"max":2.5,"avg":1},{"h":430,"max":5.5,"avg":2.5},{"h":431,"max":2.5,"avg":1},{"h":432,"max":5.5,"avg":2.5},{"h":433,"max":3,"avg":1.2},{"h":434,"max":6.5,"avg":3},{"h":435,"max":3,"avg":1.2},{"h":436,"max":7,"avg":3},{"h":437,"max":3.5,"avg":1.5},{"h":438,"max":7.5,"avg":3.5},{"h":439,"max":3.5,"avg":1.5},{"h":440,"max":8.6,"avg":3.5},{"h":441,"max":4,"avg":1.8},{"h":442,"max":7,"avg":3.2},{"h":443,"max":3.5,"avg":1.5},{"h":444,"max":7.5,"avg":3.5},{"h":445,"max":3.5,"avg":1.5},{"h":446,"max":6.5,"avg":3},{"h":447,"max":3,"avg":1.2},{"h":448,"max":6,"avg":3},{"h":449,"max":2.5,"avg":1},{"h":450,"max":5,"avg":2.2},{"h":451,"max":2,"avg":0.8},{"h":452,"max":4,"avg":2},{"h":453,"max":1.5,"avg":0.5},{"h":454,"max":0.8,"avg":0.2},{"h":455,"max":0.2,"avg":0},{"h":456,"max":0.8,"avg":0.2},{"h":457,"max":0.2,"avg":0},{"h":458,"max":0.8,"avg":0.2},{"h":459,"max":0.2,"avg":0},{"h":460,"max":0.8,"avg":0.2},{"h":461,"max":0.2,"avg":0},{"h":462,"max":1.5,"avg":0.5},{"h":463,"max":0.5,"avg":0},{"h":464,"max":8.6,"avg":3.8},{"h":465,"max":4,"avg":1.5},{"h":466,"max":7,"avg":3.2},{"h":467,"max":3.5,"avg":1.5},{"h":468,"max":7.5,"avg":3.5},{"h":469,"max":3.5,"avg":1.5},{"h":470,"max":6.5,"avg":3},{"h":471,"max":3,"avg":1.2},{"h":472,"max":6.5,"avg":3},{"h":473,"max":3,"avg":1.2},{"h":474,"max":5.5,"avg":2.5},{"h":475,"max":2.5,"avg":1},{"h":476,"max":5,"avg":2},{"h":477,"max":1.5,"avg":0.5},{"h":478,"max":0.5,"avg":0},{"h":479,"max":0.1,"avg":0},{"h":480,"max":0.5,"avg":0},{"h":481,"max":0.1,"avg":0},{"h":482,"max":0.5,"avg":0},{"h":483,"max":0.1,"avg":0},{"h":484,"max":0.4,"avg":0},{"h":485,"max":0.1,"avg":0},{"h":486,"max":0.6,"avg":0},{"h":487,"max":0.3,"avg":0},{"h":488,"max":3.5,"avg":1.5},{"h":489,"max":1.5,"avg":0.5},{"h":490,"max":4,"avg":1.8},{"h":491,"max":1.5,"avg":0.5},{"h":492,"max":5.3,"avg":2},{"h":493,"max":2,"avg":0.8},{"h":494,"max":4.5,"avg":2},{"h":495,"max":2,"avg":0.8},{"h":496,"max":4.5,"avg":2},{"h":497,"max":1.5,"avg":0.5},{"h":498,"max":3,"avg":1.2},{"h":499,"max":0.8,"avg":0.2},{"h":500,"max":0.3,"avg":0},{"h":501,"max":0.1,"avg":0},{"h":502,"max":0.3,"avg":0},{"h":503,"max":0.1,"avg":0},{"h":504,"max":0.3,"avg":0},{"h":505,"max":0.1,"avg":0},{"h":506,"max":0.3,"avg":0},{"h":507,"max":0.1,"avg":0},{"h":508,"max":0.3,"avg":0},{"h":509,"max":0.1,"avg":0},{"h":510,"max":0.5,"avg":0},{"h":511,"max":0.3,"avg":0},{"h":512,"max":7.5,"avg":3.5},{"h":513,"max":4,"avg":2},{"h":514,"max":8,"avg":4},{"h":515,"max":4,"avg":2},{"h":516,"max":11,"avg":4.9},{"h":517,"max":4.5,"avg":2.2},{"h":518,"max":9.5,"avg":4.5},{"h":519,"max":4.5,"avg":2.2},{"h":520,"max":9,"avg":4.5},{"h":521,"max":4.5,"avg":2.2},{"h":522,"max":8,"avg":4.2},{"h":523,"max":4,"avg":2},{"h":524,"max":7.5,"avg":4},{"h":525,"max":4,"avg":2},{"h":526,"max":7,"avg":3.8},{"h":527,"max":4,"avg":2},{"h":528,"max":8,"avg":4.5},{"h":529,"max":4,"avg":2},{"h":530,"max":7.5,"avg":4},{"h":531,"max":4,"avg":2},{"h":532,"max":7,"avg":4},{"h":533,"max":4,"avg":2},{"h":534,"max":7,"avg":3.5},{"h":535,"max":3.5,"avg":1.8},{"h":536,"max":8.5,"avg":4.5},{"h":537,"max":4.5,"avg":2.2},{"h":538,"max":8,"avg":4.2},{"h":539,"max":4.5,"avg":2.5},{"h":540,"max":9.9,"avg":5},{"h":541,"max":5,"avg":2.5},{"h":542,"max":8.5,"avg":4.8},{"h":543,"max":5,"avg":2.8},{"h":544,"max":8.8,"avg":5.3},{"h":545,"max":5,"avg":2.8},{"h":546,"max":8,"avg":4.8},{"h":547,"max":5,"avg":2.5},{"h":548,"max":9,"avg":5},{"h":549,"max":4.5,"avg":2.5},{"h":550,"max":8.5,"avg":4.5},{"h":551,"max":4.5,"avg":2.5},{"h":552,"max":8.5,"avg":4.5},{"h":553,"max":4.5,"avg":2.2},{"h":554,"max":7.5,"avg":4},{"h":555,"max":4,"avg":2},{"h":556,"max":7.5,"avg":4},{"h":557,"max":4,"avg":2},{"h":558,"max":7,"avg":3.8},{"h":559,"max":3.5,"avg":1.8},{"h":560,"max":6.4,"avg":3.5},{"h":561,"max":3.5,"avg":1.8},{"h":562,"max":6,"avg":3.2},{"h":563,"max":3,"avg":1.5},{"h":564,"max":6,"avg":3.5},{"h":565,"max":3,"avg":1.5},{"h":566,"max":5.5,"avg":3},{"h":567,"max":3,"avg":1.5},{"h":568,"max":5.5,"avg":3},{"h":569,"max":2.5,"avg":1.2},{"h":570,"max":5,"avg":2.8},{"h":571,"max":2.5,"avg":1.2},{"h":572,"max":5,"avg":2.5},{"h":573,"max":2.5,"avg":1},{"h":574,"max":4.5,"avg":2.2},{"h":575,"max":2,"avg":1},{"h":576,"max":4.6,"avg":2},{"h":577,"max":1.5,"avg":0.5},{"h":578,"max":3,"avg":1.2},{"h":579,"max":1,"avg":0.3},{"h":580,"max":2.3,"avg":1},{"h":581,"max":0.8,"avg":0.2},{"h":582,"max":1.8,"avg":0.8},{"h":583,"max":0.8,"avg":0.2},{"h":584,"max":2,"avg":0.8},{"h":585,"max":0.8,"avg":0.2},{"h":586,"max":1.5,"avg":0.6},{"h":587,"max":0.6,"avg":0.1},{"h":588,"max":2.3,"avg":1},{"h":589,"max":0.8,"avg":0.2},{"h":590,"max":1.8,"avg":0.6},{"h":591,"max":0.6,"avg":0.1},{"h":592,"max":1.6,"avg":0.5},{"h":593,"max":0.5,"avg":0},{"h":594,"max":1,"avg":0.2},{"h":595,"max":0.2,"avg":0},{"h":596,"max":0.5,"avg":0},{"h":597,"max":0.1,"avg":0},{"h":598,"max":0.4,"avg":0},{"h":599,"max":0.1,"avg":0},{"h":600,"max":0.5,"avg":0},{"h":601,"max":0.1,"avg":0},{"h":602,"max":0.4,"avg":0},{"h":603,"max":0.1,"avg":0},{"h":604,"max":0.4,"avg":0},{"h":605,"max":0.1,"avg":0},{"h":606,"max":0.6,"avg":0},{"h":607,"max":0.5,"avg":0},{"h":608,"max":4,"avg":1.5},{"h":609,"max":1.2,"avg":0.3},{"h":610,"max":3.5,"avg":1.2},{"h":611,"max":1.2,"avg":0.3},{"h":612,"max":4.6,"avg":1.5},{"h":613,"max":1.5,"avg":0.3},{"h":614,"max":3.8,"avg":1.2},{"h":615,"max":1.2,"avg":0.3},{"h":616,"max":3.8,"avg":1.2},{"h":617,"max":1,"avg":0.2},{"h":618,"max":3.5,"avg":1.2},{"h":619,"max":1.2,"avg":0.3},{"h":620,"max":4.2,"avg":1.5},{"h":621,"max":1.5,"avg":0.3},{"h":622,"max":3.5,"avg":1.2},{"h":623,"max":1.2,"avg":0.3},{"h":624,"max":4.6,"avg":1.2},{"h":625,"max":1.2,"avg":0.3},{"h":626,"max":3.5,"avg":1.2},{"h":627,"max":1,"avg":0.2},{"h":628,"max":3.8,"avg":1.5},{"h":629,"max":1.2,"avg":0.3},{"h":630,"max":3.5,"avg":1.2},{"h":631,"max":1.2,"avg":0.3},{"h":632,"max":4,"avg":1.2},{"h":633,"max":1.2,"avg":0.3},{"h":634,"max":3.5,"avg":1.2},{"h":635,"max":1,"avg":0.2},{"h":636,"max":4.5,"avg":1.5},{"h":637,"max":1.5,"avg":0.3},{"h":638,"max":3.5,"avg":1.2},{"h":639,"max":1.2,"avg":0.3},{"h":640,"max":9.2,"avg":4.2},{"h":641,"max":2,"avg":0.5},{"h":642,"max":4.5,"avg":1.5},{"h":643,"max":1.5,"avg":0.5},{"h":644,"max":5.3,"avg":1.6},{"h":645,"max":1.5,"avg":0.5},{"h":646,"max":4,"avg":1.5},{"h":647,"max":1.5,"avg":0.5},{"h":648,"max":4.5,"avg":1.5},{"h":649,"max":1.5,"avg":0.5},{"h":650,"max":4,"avg":1.5},{"h":651,"max":1.5,"avg":0.5},{"h":652,"max":5,"avg":1.6},{"h":653,"max":1.5,"avg":0.5},{"h":654,"max":4,"avg":1.5},{"h":655,"max":1.5,"avg":0.5},{"h":656,"max":3.8,"avg":1.5},{"h":657,"max":1.2,"avg":0.3},{"h":658,"max":3.5,"avg":1.2},{"h":659,"max":1,"avg":0.3},{"h":660,"max":3.5,"avg":1},{"h":661,"max":0.8,"avg":0.2},{"h":662,"max":3,"avg":1},{"h":663,"max":0.8,"avg":0.2},{"h":664,"max":3,"avg":1},{"h":665,"max":0.8,"avg":0.2},{"h":666,"max":2.5,"avg":0.8},{"h":667,"max":0.8,"avg":0.2},{"h":668,"max":3.5,"avg":1},{"h":669,"max":0.8,"avg":0.2},{"h":670,"max":3,"avg":1},{"h":671,"max":0.8,"avg":0.2},{"h":672,"max":2.8,"avg":1},{"h":673,"max":0.8,"avg":0.2},{"h":674,"max":2.5,"avg":0.8},{"h":675,"max":0.6,"avg":0.1},{"h":676,"max":3.3,"avg":1},{"h":677,"max":0.8,"avg":0.2},{"h":678,"max":3,"avg":1},{"h":679,"max":1,"avg":0.2},{"h":680,"max":4,"avg":1},{"h":681,"max":1.2,"avg":0.3},{"h":682,"max":3.5,"avg":1},{"h":683,"max":1.2,"avg":0.3},{"h":684,"max":3.5,"avg":1},{"h":685,"max":1,"avg":0.2},{"h":686,"max":3,"avg":1},{"h":687,"max":1,"avg":0.2},{"h":688,"max":4,"avg":1},{"h":689,"max":1.2,"avg":0.3},{"h":690,"max":3.5,"avg":1},{"h":691,"max":1.5,"avg":0.3},{"h":692,"max":6,"avg":3},{"h":693,"max":3.5,"avg":1.5},{"h":694,"max":7.5,"avg":3.8},{"h":695,"max":4,"avg":2},{"h":696,"max":9.2,"avg":5},{"h":697,"max":4.5,"avg":2},{"h":698,"max":8,"avg":4.2},{"h":699,"max":4,"avg":2},{"h":700,"max":8,"avg":4},{"h":701,"max":4,"avg":2},{"h":702,"max":7.5,"avg":4},{"h":703,"max":4,"avg":2},{"h":704,"max":8.6,"avg":4.5},{"h":705,"max":4.5,"avg":2},{"h":706,"max":7.5,"avg":4},{"h":707,"max":4,"avg":2},{"h":708,"max":7.5,"avg":4},{"h":709,"max":3.5,"avg":1.5},{"h":710,"max":7,"avg":3.5},{"h":711,"max":3.5,"avg":1.5},{"h":712,"max":7,"avg":3.5},{"h":713,"max":3.5,"avg":1.5},{"h":714,"max":6,"avg":3},{"h":715,"max":3,"avg":1.2},{"h":716,"max":6.5,"avg":3},{"h":717,"max":3,"avg":1.2},{"h":718,"max":5.5,"avg":2.8},{"h":719,"max":2.5,"avg":1.2},{"h":720,"max":6,"avg":3},{"h":721,"max":2.5,"avg":1.2},{"h":722,"max":5,"avg":2.5},{"h":723,"max":2.5,"avg":1.2},{"h":724,"max":7.8,"avg":3.5},{"h":725,"max":3.5,"avg":1.5},{"h":726,"max":6,"avg":3},{"h":727,"max":3,"avg":1.2},{"h":728,"max":6,"avg":3},{"h":729,"max":3,"avg":1.2},{"h":730,"max":5.5,"avg":2.8},{"h":731,"max":2.5,"avg":1},{"h":732,"max":5,"avg":2.5},{"h":733,"max":2.5,"avg":1},{"h":734,"max":4.5,"avg":2.2},{"h":735,"max":2,"avg":0.8},{"h":736,"max":4.5,"avg":2},{"h":737,"max":2,"avg":0.8},{"h":738,"max":3.5,"avg":1.5},{"h":739,"max":1.5,"avg":0.5},{"h":740,"max":2.7,"avg":1},{"h":741,"max":1.2,"avg":0.3},{"h":742,"max":2.5,"avg":1},{"h":743,"max":1.2,"avg":0.3},{"h":744,"max":2,"avg":0.8}
]},
"transform":[{"fold":["max","avg"],"as":["series","wind"]}],
"mark":{"type":"line","strokeWidth":2,"strokeJoin":"round"},
"encoding":{
 "x":{"field":"h","type":"quantitative","scale":{"domain":[0,744],"nice":false,"zero":false},"axis":{"values":[48,120,192,264,336,408,480,552,624,696],"labelExpr":"[format(datum.value/24+1,'02d')+'.05','00:00']","title":null}},
 "y":{"field":"wind","type":"quantitative","scale":{"domain":[0,15.5],"nice":false,"zero":false},"axis":{"values":[0,2,4,6,8,10,12,14],"title":"Windgeschwindigkeit [m/s]"}},
 "color":{"field":"series","type":"nominal","scale":{"domain":["max","avg"],"range":["#ff0000","#008000"]},"legend":{"title":null,"orient":"none","legendX":460,"legendY":5,"direction":"horizontal","symbolStrokeWidth":2.5,"labelExpr":"datum.label == 'max' ? 'Windmax' : '10min-Mittel'"}}
}
}
]
}
